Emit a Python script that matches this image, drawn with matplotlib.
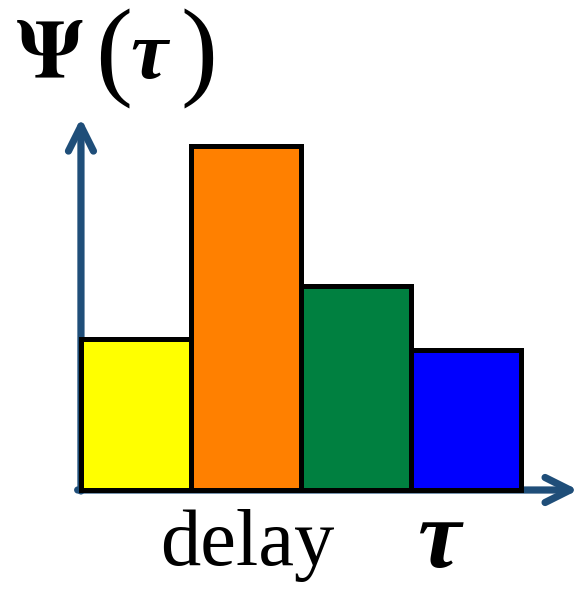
import numpy as np
import matplotlib.pyplot as plt

plt.rcParams['font.family'] = ['Liberation Serif', 'DejaVu Serif']
plt.rcParams['mathtext.fontset'] = 'stix'

# bar data (arbitrary units)
bins    = [0, 1, 2, 3]
heights = [1.51, 3.44, 2.04, 1.40]
colors  = ['#FFFF00', '#FF8000', '#008040', '#0000FF']

psi_txt  = r'$\mathbf{\Psi}$'
tau_txt  = 'τ'
xlab_txt = 'delay'

axcol = '#1F4E79'

fig = plt.figure(figsize=(5.82, 5.92), dpi=100)
ax  = fig.add_axes([0, 0, 1, 1])
ax.set_xlim(-1.236, 4.055)
ax.set_ylim(-1.02, 4.90)
ax.axis('off')

# axes arrows
arw = dict(arrowstyle='->', lw=5.2, color=axcol, mutation_scale=45,
           capstyle='round', joinstyle='round', shrinkA=0, shrinkB=0)
ax.annotate('', xy=(-0.5, 3.72), xytext=(-0.5, -0.01), arrowprops=arw)
ax.annotate('', xy=(4.02, 0.0), xytext=(-0.53, 0.0), arrowprops=arw)

# bars
ax.bar(bins, heights, width=1.0, color=colors, edgecolor='black',
       linewidth=3.6, zorder=3)

def px(x, y):
    return x/582, 1 - y/592

# title  Psi( tau )
fig.text(*px(15, 77), psi_txt, fontsize=60, ha='left', va='baseline')
fig.text(*px(95, 59), '(', fontsize=80, ha='left', va='center')
fig.text(*px(130, 78), tau_txt, fontsize=60, ha='left', va='baseline',
         fontweight='bold', fontstyle='italic')
fig.text(*px(180, 59), ')', fontsize=80, ha='left', va='center')

# x label
fig.text(*px(160, 565), xlab_txt, fontsize=58, ha='left', va='baseline')
fig.text(*px(418, 567), tau_txt, fontsize=70, ha='left', va='baseline',
         fontweight='bold', fontstyle='italic')

fig.savefig('out.png', dpi=100)
